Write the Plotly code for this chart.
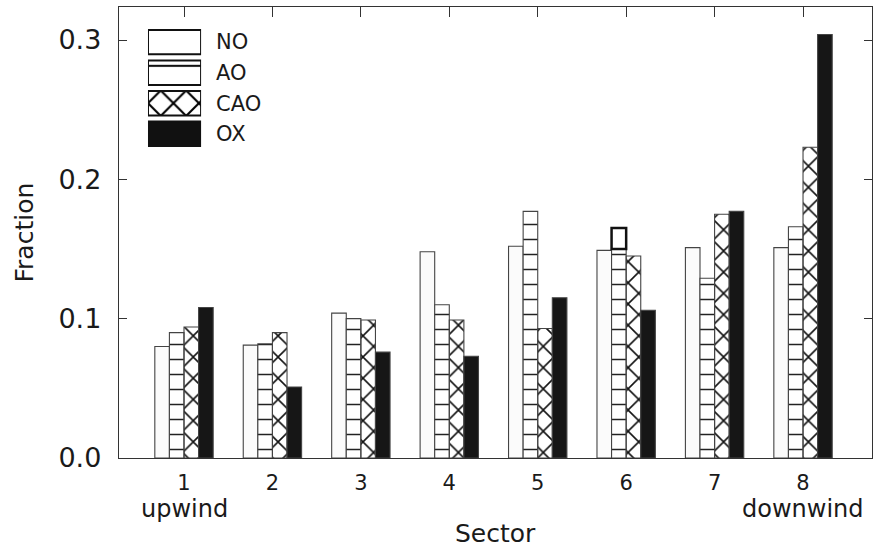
import plotly.graph_objects as go

sectors = [1, 2, 3, 4, 5, 6, 7, 8]
tick_labels = ["1", "2", "3", "4", "5", "6", "7", "8"]
series_names = ["NO", "AO", "CAO", "OX"]
no_vals = [0.080, 0.081, 0.104, 0.148, 0.152, 0.149, 0.151, 0.151]
ao_vals = [0.090, 0.082, 0.100, 0.110, 0.177, 0.150, 0.129, 0.166]
cao_vals = [0.094, 0.090, 0.099, 0.099, 0.093, 0.145, 0.175, 0.223]
ox_vals = [0.108, 0.051, 0.076, 0.073, 0.115, 0.106, 0.177, 0.304]
# small open box drawn on top of the AO bar in sector 6
ao_box_base = [None, None, None, None, None, 0.150, None, None]
ao_box_len = [None, None, None, None, None, 0.015, None, None]
end_labels = {1: "upwind", 8: "downwind"}
y_ticks = [0.0, 0.1, 0.2, 0.3]
y_tick_text = ["0.0", "0.1", "0.2", "0.3"]

FONT = "DejaVu Sans"
INK = "#1a1a1a"
FRAME = "#333333"
X_RANGE = [0.265, 8.78]

bar_styles = {
    "NO": dict(color="#fbfbfb", pattern=dict(shape="")),
    "AO": dict(color="white", pattern=dict(shape="-", size=15, solidity=0.1,
                                          fgcolor="#222", fgopacity=1)),
    "CAO": dict(color="white", pattern=dict(shape="x", size=15, solidity=0.2,
                                           fgcolor="#111", fgopacity=1, fillmode="replace")),
    "OX": dict(color="#161616", pattern=dict(shape="")),
}
leg_styles = {
    "NO": dict(color="white", pattern=dict(shape="")),
    "AO": dict(color="white", pattern=dict(shape="-", size=26, solidity=0.08,
                                          fgcolor="#111", fgopacity=1)),
    "CAO": dict(color="white", pattern=dict(shape="x", size=18, solidity=0.22,
                                           fgcolor="#000", fgopacity=1, fillmode="replace")),
    "OX": dict(color="#111111", pattern=dict(shape="")),
}
values = {"NO": no_vals, "AO": ao_vals, "CAO": cao_vals, "OX": ox_vals}

fig = go.Figure()
for name in series_names:
    st = bar_styles[name]
    fig.add_trace(go.Bar(
        x=sectors, y=values[name], name=name, offsetgroup=name,
        marker=dict(color=st["color"], pattern=st["pattern"],
                    line=dict(color="#444", width=1.1)),
        showlegend=False,
    ))

fig.add_trace(go.Bar(
    x=sectors, y=ao_box_len, base=ao_box_base, offsetgroup="AO",
    marker=dict(color="white", line=dict(color="#111", width=2.5)),
    showlegend=False,
))

# legend drawn as a small bar chart on its own axes
for name in series_names:
    st = leg_styles[name]
    fig.add_trace(go.Bar(
        x=[1], y=[name], orientation="h", xaxis="x2", yaxis="y2",
        marker=dict(color=st["color"], pattern=st["pattern"],
                    line=dict(color="#111", width=2)),
        showlegend=False, width=0.8,
    ))

# invisible trace to carry the top tick axis
fig.add_trace(go.Scatter(x=X_RANGE, y=[0, 0], xaxis="x3", yaxis="y",
                         mode="lines", line=dict(width=0), hoverinfo="skip",
                         showlegend=False))

for xv, txt in end_labels.items():
    fig.add_annotation(x=xv, y=0, xref="x", yref="paper", text=txt,
                       showarrow=False, yanchor="middle", yshift=-51,
                       font=dict(family=FONT, size=24, color=INK))

fig.add_annotation(x=0.5, y=0, xref="paper", yref="paper", text="Sector",
                   showarrow=False, yanchor="middle", yshift=-75,
                   font=dict(family=FONT, size=25, color=INK))
fig.add_annotation(x=0, y=0.5, xref="paper", yref="paper", text="Fraction",
                   showarrow=False, xanchor="center", xshift=-95, textangle=-90,
                   font=dict(family=FONT, size=25, color=INK))

fig.update_layout(
    width=877, height=548,
    margin=dict(l=119, r=5, t=7, b=90, autoexpand=False),
    plot_bgcolor="white", paper_bgcolor="white",
    barmode="group", bargap=0.34, bargroupgap=0,
    font=dict(family=FONT, size=20, color=INK),
    xaxis=dict(
        range=X_RANGE, tickvals=sectors, ticktext=tick_labels,
        showgrid=False, zeroline=False, showline=True, linecolor=FRAME, linewidth=1.4,
        mirror=True, ticks="", automargin=False,
        ticklabelstandoff=6, tickfont=dict(size=21),
    ),
    xaxis3=dict(
        range=X_RANGE, overlaying="x", side="top", anchor="y",
        tickvals=sectors, showticklabels=False, ticks="inside", ticklen=10,
        tickcolor=FRAME, tickwidth=1.4, showgrid=False, zeroline=False,
        showline=False, automargin=False,
    ),
    yaxis=dict(
        range=[0, 0.3237], tickvals=y_ticks, ticktext=y_tick_text,
        showgrid=False, zeroline=False, showline=True, linecolor=FRAME, linewidth=1.4,
        mirror="ticks", ticks="inside", ticklen=8, tickcolor=FRAME,
        ticklabelstandoff=11, automargin=False,
        tickfont=dict(size=27),
    ),
    xaxis2=dict(domain=[0.0385, 0.109], anchor="y2", range=[0, 1],
                visible=False, fixedrange=True),
    yaxis2=dict(domain=[0.685, 0.956], anchor="x2", side="right",
                categoryorder="array", categoryarray=list(reversed(series_names)),
                showgrid=False, showline=False, zeroline=False, ticks="",
                ticklabelstandoff=14, tickfont=dict(size=21), automargin=False),
)

fig.write_html(
    "out.html",
    config={"responsive": False, "displayModeBar": False},
    post_script="document.body.style.margin='0';document.body.style.overflow='hidden';",
)
